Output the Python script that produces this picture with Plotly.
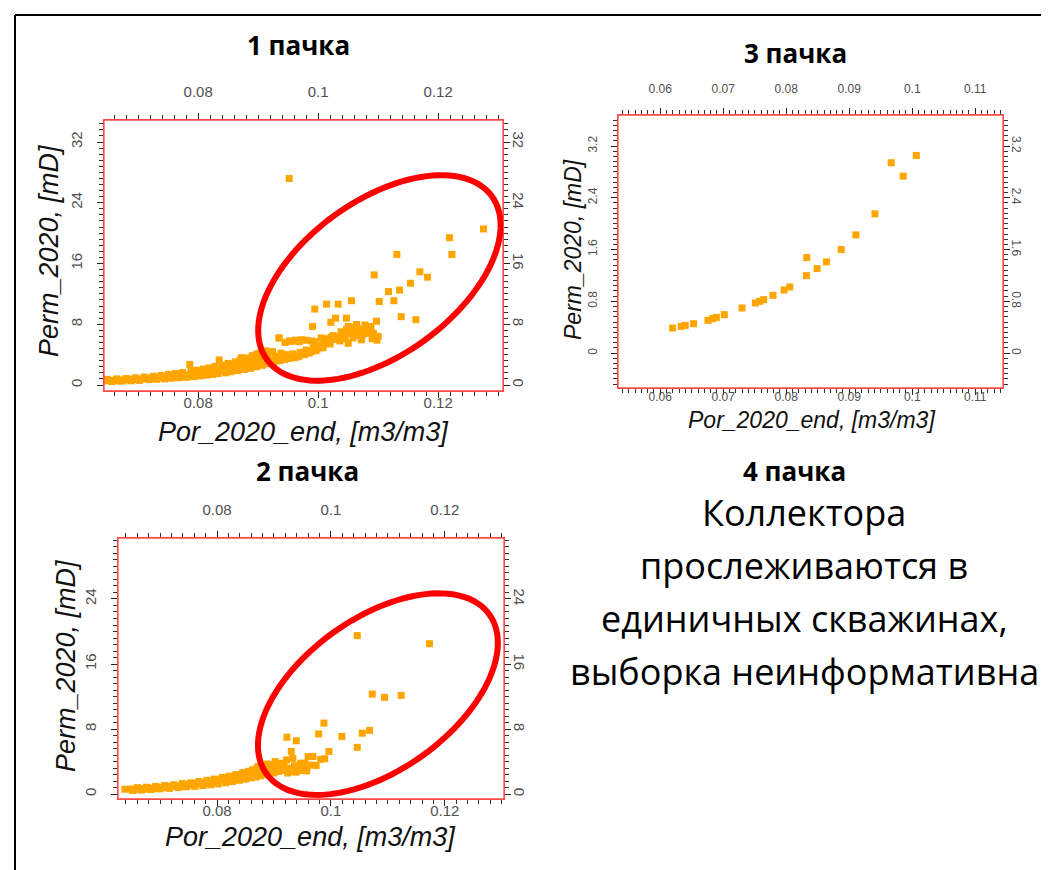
import numpy as np
import plotly.graph_objects as go

W, H = 1049, 870

# ---------------- data ----------------
# Pack 1 (1 пачка)
p1_por = [0.0645, 0.0652, 0.0660, 0.0668, 0.0675, 0.0683, 0.0690, 0.0698, 0.0705, 0.0712,
          0.0720, 0.0727, 0.0733, 0.0740, 0.0746, 0.0752, 0.0758, 0.0763, 0.0770, 0.0776,
          0.0782, 0.0786, 0.0790, 0.0795, 0.0800, 0.0806, 0.0811, 0.0816, 0.0820, 0.0826,
          0.0830, 0.0835, 0.0838, 0.0843, 0.0848, 0.0852, 0.0856, 0.0860, 0.0864, 0.0868,
          0.0872, 0.0875, 0.0878, 0.0882, 0.0885, 0.0888, 0.0892, 0.0895, 0.0898, 0.0901,
          0.0905, 0.0908, 0.0912, 0.0916, 0.0920, 0.0924, 0.0928, 0.0932, 0.0935, 0.0938,
          0.0942, 0.0946, 0.0950, 0.0955, 0.0958, 0.0962, 0.0966, 0.0970, 0.0972, 0.0976,
          0.0980, 0.0985, 0.0989, 0.0992, 0.0996, 0.1000, 0.1005, 0.1008, 0.1012, 0.1016,
          0.1020, 0.1025, 0.1030, 0.1033, 0.1038, 0.1042, 0.1047, 0.1050, 0.1055, 0.1060,
          0.1064, 0.1068, 0.1072, 0.1076, 0.1081, 0.1085, 0.1090, 0.1095, 0.1100,
          0.0648, 0.0656, 0.0664, 0.0672, 0.0680, 0.0688, 0.0695, 0.0702, 0.0710, 0.0718,
          0.0725, 0.0731, 0.0738, 0.0744, 0.0750, 0.0756, 0.0762, 0.0768, 0.0774, 0.0780,
          0.0788, 0.0793, 0.0798, 0.0804, 0.0809, 0.0814, 0.0818, 0.0824, 0.0828, 0.0833,
          0.0840, 0.0846, 0.0850, 0.0855, 0.0862, 0.0866, 0.0870, 0.0877, 0.0880, 0.0887,
          0.0890, 0.0897, 0.0903, 0.0907, 0.0913, 0.0918, 0.0926, 0.0936, 0.0944, 0.0952,
          0.0960, 0.0968, 0.0978, 0.0988, 0.0998, 0.1004, 0.1010, 0.1018, 0.1028, 0.1036,
          0.1045, 0.1052, 0.1058, 0.1066, 0.1074, 0.1083, 0.1092, 0.1098,
          0.0945, 0.0952, 0.0968, 0.0980, 0.0995, 0.1010, 0.1022, 0.1040, 0.1062, 0.1078,
          0.1088,
          0.09345, 0.09517, 0.09906, 0.09944, 0.10139, 0.10211, 0.10289, 0.10333, 0.10472,
          0.10500, 0.10555, 0.10639, 0.10806, 0.10933, 0.10972, 0.11017, 0.11172, 0.11261,
          0.11311, 0.11356, 0.11383, 0.11539, 0.11628, 0.11694, 0.11822, 0.12189, 0.12228,
          0.12755]
p1_perm = [0.55, 0.60, 0.58, 0.65, 0.62, 0.70, 0.75, 0.72, 0.80, 0.85,
           0.90, 0.88, 1.00, 1.05, 0.95, 1.10, 1.20, 1.05, 1.25, 1.35,
           1.15, 2.70, 1.45, 1.30, 1.60, 1.45, 1.75, 1.55, 1.90, 2.00,
           1.65, 3.30, 2.20, 1.85, 2.40, 2.05, 2.70, 2.25, 3.00, 2.45,
           3.60, 2.70, 3.10, 2.50, 3.40, 2.90, 3.80, 3.20, 4.10, 3.00,
           3.60, 4.30, 3.40, 3.90, 3.20, 4.40, 3.60, 3.80, 6.20, 4.20,
           3.50, 4.00, 3.70, 5.75, 4.10, 5.90, 3.70, 4.30, 5.96, 4.00,
           4.60, 4.20, 5.80, 4.90, 4.50, 5.20, 6.20, 4.90, 5.60, 6.10,
           5.40, 6.50, 6.00, 6.20, 7.00, 6.60, 7.30, 5.50, 6.80, 7.60,
           7.95, 6.70, 5.96, 7.20, 7.50, 6.80, 6.10, 6.40, 6.40,
           0.75, 0.45, 0.80, 0.50, 0.85, 0.55, 0.95, 0.60, 1.05, 0.70,
           1.15, 0.75, 1.25, 0.80, 1.40, 0.90, 1.50, 0.95, 1.65, 1.00,
           1.80, 1.10, 1.95, 1.20, 2.10, 1.30, 2.25, 1.40, 2.45, 1.50,
           2.60, 1.60, 2.85, 1.75, 3.05, 1.90, 3.30, 2.05, 3.55, 2.20,
           3.85, 2.40, 4.20, 2.60, 4.50, 2.80, 3.00, 3.20, 3.35, 3.50,
           3.60, 3.80, 4.10, 4.40, 4.70, 5.00, 5.40, 5.70, 6.30, 5.80,
           6.40, 7.10, 6.20, 7.40, 6.60, 7.00, 6.80, 5.90,
           5.60, 5.80, 5.70, 5.90, 5.70, 6.00, 6.30, 6.10, 6.50, 7.90,
           7.70,
           6.2, 27.2, 7.7, 10.0, 10.65, 8.25, 8.8, 10.65, 8.8,
           7.7, 11.1, 7.95, 7.5, 14.5, 8.4, 11.0, 12.3, 11.1,
           17.2, 12.5, 9.0, 13.4, 8.6, 14.9, 14.2, 19.4, 17.2,
           20.55]

# Pack 2 (2 пачка)
p2_por = [0.0638, 0.0648, 0.0656, 0.0664, 0.0672, 0.0680, 0.0688, 0.0696, 0.0704, 0.0712,
          0.0720, 0.0728, 0.0735, 0.0742, 0.0750, 0.0757, 0.0764, 0.0771, 0.0778, 0.0785,
          0.0792, 0.0798, 0.0805, 0.0812, 0.0818, 0.0824, 0.0830, 0.0836, 0.0842, 0.0847,
          0.0852, 0.0857, 0.0862, 0.0866, 0.0870, 0.0874, 0.0878, 0.0882, 0.0886, 0.0890,
          0.0894, 0.0898, 0.0902, 0.0906, 0.0910, 0.0914, 0.0918, 0.0922, 0.0926, 0.0929,
          0.0933, 0.0936, 0.0941, 0.0944, 0.0947, 0.0950, 0.0954, 0.0958, 0.0960, 0.0966,
          0.0974, 0.0982, 0.0989,
          0.0652, 0.0660, 0.0668, 0.0676, 0.0684, 0.0692, 0.0700, 0.0708, 0.0716,
          0.0724, 0.0732, 0.0739, 0.0746, 0.0754, 0.0761, 0.0768, 0.0775, 0.0782, 0.0789,
          0.0795, 0.0802, 0.0809, 0.0815, 0.0821, 0.0827, 0.0833, 0.0839, 0.0845, 0.0850,
          0.0855, 0.0860, 0.0864, 0.0868, 0.0872, 0.0876, 0.0880, 0.0884, 0.0888, 0.0892,
          0.0896, 0.0900, 0.0908, 0.0916, 0.0924, 0.0931, 0.0939, 0.0946, 0.0952, 0.0957,
          0.09228, 0.09392, 0.09304, 0.09684, 0.09784, 0.09877, 0.09965, 0.10193, 0.10462,
          0.10550, 0.10679, 0.10725, 0.10942, 0.11234, 0.10462, 0.11731]
p2_perm = [0.60, 0.62, 0.58, 0.68, 0.65, 0.72, 0.70, 0.80, 0.85, 0.82,
           0.95, 1.00, 0.95, 1.10, 1.20, 1.10, 1.30, 1.40, 1.25, 1.50,
           1.60, 1.45, 1.75, 1.90, 1.70, 2.00, 2.20, 1.95, 2.40, 2.65,
           2.20, 2.50, 2.90, 2.40, 3.20, 2.70, 3.00, 2.60, 3.30, 2.90,
           3.60, 3.10, 4.00, 3.30, 3.80, 2.90, 3.40, 4.20, 3.10, 2.75,
           4.40, 3.50, 2.95, 3.30, 3.80, 3.00, 3.80, 3.20, 4.60, 3.57,
           3.53, 4.27, 4.35,
           0.45, 0.80, 0.50, 0.85, 0.55, 0.95, 0.65, 1.05, 0.70,
           1.15, 0.80, 1.30, 0.90, 1.40, 0.95, 1.55, 1.05, 1.70, 1.15,
           1.85, 1.25, 2.05, 1.40, 2.20, 1.55, 2.40, 1.70, 2.60, 1.85,
           2.80, 2.00, 3.00, 2.10, 3.40, 2.25, 3.50, 2.40, 3.70, 2.50,
           2.70, 2.60, 2.80, 3.00, 2.60, 3.20, 2.70, 2.90, 3.40, 2.85,
           7.0, 6.56, 5.25, 4.63, 7.4, 8.74, 5.25, 7.1, 5.75,
           7.5, 7.84, 12.3, 11.9, 12.15, 19.5, 18.5]

# Pack 3 (3 пачка)
p3_por = [0.06196, 0.06334, 0.06397, 0.0653, 0.06758, 0.06832, 0.0689, 0.07017, 0.07298,
          0.0751, 0.0758, 0.07642, 0.0779, 0.07966, 0.08056, 0.0832, 0.08326, 0.0849,
          0.08638, 0.08872, 0.09105, 0.09407, 0.09666, 0.09857, 0.10064]
p3_perm = [0.387, 0.413, 0.428, 0.454, 0.506, 0.532, 0.552, 0.594, 0.697,
           0.774, 0.800, 0.826, 0.893, 0.975, 1.022, 1.197, 1.476, 1.306,
           1.409, 1.600, 1.827, 2.152, 2.942, 2.735, 3.055]

titles = ["1 пачка", "3 пачка", "2 пачка"]
x_title = "Por_2020_end, [m3/m3]"
y_title = "Perm_2020, [mD]"
note_title = "4 пачка"
note_lines = ["Коллектора", "прослеживаются в", "единичных скважинах,", "выборка неинформативна"]

# ---------------- layout helpers ----------------
ORANGE = "#FFA500"
FRAME_RED = "#FF4A4A"
TICKFONT = "Liberation Sans, Arial, sans-serif"
TEXTFONT = "Open Sans, Noto Sans, sans-serif"


def fmt(v):
    s = ("%.3f" % v).rstrip("0").rstrip(".")
    return "0" if s in ("-0", "") else s


panels = [
    dict(x=p1_por, y=p1_perm, box=(96, 112, 495, 383),
         xr=[0.0643, 0.1308], yr=[-0.79, 34.9],
         xt=np.round(np.arange(0.07, 0.1301, 0.01), 4), xlab=0.02,
         xminor=0.002, yt=np.arange(0, 33, 4), ylab=8, yminor=0.8, tfs=15,
         title=titles[0], tpos=(290, 37), ytpos=(41, 243), xtpos=(295, 424), afs=27,
         ell=dict(cx=0.1102, cy=14.1, a=139, b=77, ang=36)),
    dict(x=p3_por, y=p3_perm, box=(610, 107, 995, 380),
         xr=[0.0533, 0.1144], yr=[-0.54, 3.68],
         xt=np.round(np.arange(0.055, 0.1141, 0.005), 4), xlab=0.01,
         xminor=0.001, yt=np.round(np.arange(-0.4, 3.61, 0.4), 2), ylab=0.8, yminor=0.08, tfs=12,
         title=titles[1], tpos=(787, 45), ytpos=(565, 242), xtpos=(803, 412), afs=23,
         ell=None),
    dict(x=p2_por, y=p2_perm, box=(110, 530, 496, 791),
         xr=[0.0626, 0.1304], yr=[-0.6, 31.5],
         xt=np.round(np.arange(0.07, 0.1301, 0.01), 4), xlab=0.02,
         xminor=0.002, yt=np.arange(0, 29, 4), ylab=8, yminor=0.8, tfs=15,
         title=titles[2], tpos=(299, 463), ytpos=(58, 658), xtpos=(302, 829), afs=27,
         ell=dict(cx=0.10825, cy=12.3, a=137, b=76, ang=35.5)),
]

fig = go.Figure()
layout = dict(width=W, height=H, margin=dict(l=0, r=0, t=0, b=0),
              paper_bgcolor="white", plot_bgcolor="white", showlegend=False,
              annotations=[], shapes=[])


def labeled(vals, step):
    out = []
    for v in vals:
        q = v / step
        out.append(fmt(v) if abs(q - round(q)) < 1e-6 else "")
    return out


def minor_vals(r, step):
    start = np.ceil(r[0] / step) * step
    return list(np.round(np.arange(start, r[1], step), 5))


for i, p in enumerate(panels):
    bx = "x" if i == 0 else "x%d" % (2 * i + 1)
    by = "y" if i == 0 else "y%d" % (2 * i + 1)
    ox = "x%d" % (2 * i + 2)
    oy = "y%d" % (2 * i + 2)
    kbx = "xaxis" if i == 0 else "xaxis%d" % (2 * i + 1)
    kby = "yaxis" if i == 0 else "yaxis%d" % (2 * i + 1)
    kox = "xaxis%d" % (2 * i + 2)
    koy = "yaxis%d" % (2 * i + 2)
    x0, y0, x1, y1 = p["box"]
    xd = [x0 / W, x1 / W]
    yd = [1 - y1 / H, 1 - y0 / H]

    common = dict(showgrid=False, zeroline=False, showline=True, linecolor=FRAME_RED,
                  linewidth=1, ticks="outside", ticklen=6, tickcolor="#222", tickwidth=1,
                  tickfont=dict(family=TICKFONT, size=p["tfs"], color="#505050"))
    xcommon = dict(common, range=p["xr"], tickmode="array", tickvals=list(p["xt"]),
                   ticktext=labeled(p["xt"], p["xlab"]),
                   minor=dict(tickmode="array", tickvals=minor_vals(p["xr"], p["xminor"]),
                              ticklen=4, tickcolor="#333", ticks="outside", showgrid=False))
    ycommon = dict(common, range=p["yr"], tickmode="array", tickvals=list(p["yt"]),
                   ticktext=labeled(p["yt"], p["ylab"]),
                   minor=dict(tickmode="array", tickvals=minor_vals(p["yr"], p["yminor"]),
                              ticklen=4, tickcolor="#333", ticks="outside", showgrid=False))
    layout[kbx] = dict(xcommon, domain=xd, anchor=by, side="bottom", ticklabelstandoff=-8)
    layout[kby] = dict(ycommon, domain=yd, anchor=bx, side="left", tickangle=-90,
                       ticklabelstandoff=9)
    layout[kox] = dict(xcommon, domain=xd, anchor=by, side="top", overlaying=bx,
                       ticklabelstandoff=10)
    layout[koy] = dict(ycommon, domain=yd, anchor=bx, side="right", overlaying=by,
                       tickangle=90, ticklabelstandoff=-3)

    fig.add_trace(go.Scatter(x=p["x"], y=p["y"], mode="markers", xaxis=bx, yaxis=by,
                             marker=dict(symbol="square", size=7, color=ORANGE,
                                         line=dict(width=0)),
                             hoverinfo="skip"))
    fig.add_trace(go.Scatter(x=[None], y=[None], mode="markers", xaxis=ox, yaxis=oy,
                             hoverinfo="skip"))

    layout["shapes"].append(dict(type="rect", xref="paper", yref="paper",
                                 x0=xd[0], x1=xd[1], y0=yd[0], y1=yd[1],
                                 line=dict(color=FRAME_RED, width=1.3), layer="above"))

    tx, ty = p["tpos"]
    layout["annotations"].append(dict(x=tx / W, y=1 - ty / H, xref="paper", yref="paper",
                                      text="<b>%s</b>" % p["title"], showarrow=False,
                                      font=dict(family=TEXTFONT, size=26, color="black"),
                                      xanchor="center", yanchor="middle"))
    ax_, ay_ = p["ytpos"]
    layout["annotations"].append(dict(x=ax_ / W, y=1 - ay_ / H, xref="paper", yref="paper",
                                      text="<i>%s</i>" % y_title, showarrow=False, textangle=-90,
                                      font=dict(family=TICKFONT, size=p["afs"], color="#111"),
                                      xanchor="center", yanchor="middle"))
    ax_, ay_ = p["xtpos"]
    layout["annotations"].append(dict(x=ax_ / W, y=1 - ay_ / H, xref="paper", yref="paper",
                                      text="<i>%s</i>" % x_title, showarrow=False,
                                      font=dict(family=TICKFONT, size=p["afs"], color="#111"),
                                      xanchor="center", yanchor="middle"))

    e = p["ell"]
    if e is not None:
        sx = (x1 - x0) / (p["xr"][1] - p["xr"][0])
        sy = (y1 - y0) / (p["yr"][1] - p["yr"][0])
        th = np.deg2rad(e["ang"])
        t = np.linspace(0, 2 * np.pi, 121)
        dx = e["a"] * np.cos(t) * np.cos(th) - e["b"] * np.sin(t) * np.sin(th)
        dy = e["a"] * np.cos(t) * np.sin(th) + e["b"] * np.sin(t) * np.cos(th)
        ex = e["cx"] + dx / sx
        ey = e["cy"] + dy / sy
        path = "M " + " L ".join("%.6f,%.5f" % (a, b) for a, b in zip(ex, ey)) + " Z"
        layout["shapes"].append(dict(type="path", path=path, xref=bx, yref=by,
                                     line=dict(color="#FF0000", width=6), layer="above"))

layout["annotations"].append(dict(x=786 / W, y=1 - 463 / H, xref="paper", yref="paper",
                                  text="<b>%s</b>" % note_title, showarrow=False,
                                  font=dict(family=TEXTFONT, size=26, color="black"),
                                  xanchor="center", yanchor="middle"))
for k, line in enumerate(note_lines):
    yy = 504 + k * 53
    layout["annotations"].append(dict(x=796 / W, y=1 - yy / H, xref="paper", yref="paper",
                                      text=line, showarrow=False,
                                      font=dict(family=TEXTFONT, size=36, color="black"),
                                      xanchor="center", yanchor="middle"))

# outer black frame (left and top edges)
layout["shapes"].append(dict(type="line", xref="paper", yref="paper",
                             x0=7 / W, x1=7 / W, y0=0, y1=1 - 7 / H,
                             line=dict(color="black", width=2)))
layout["shapes"].append(dict(type="line", xref="paper", yref="paper",
                             x0=7 / W, x1=1, y0=1 - 7 / H, y1=1 - 7 / H,
                             line=dict(color="black", width=2)))

fig.update_layout(**layout)
fig.write_html("out.html")
